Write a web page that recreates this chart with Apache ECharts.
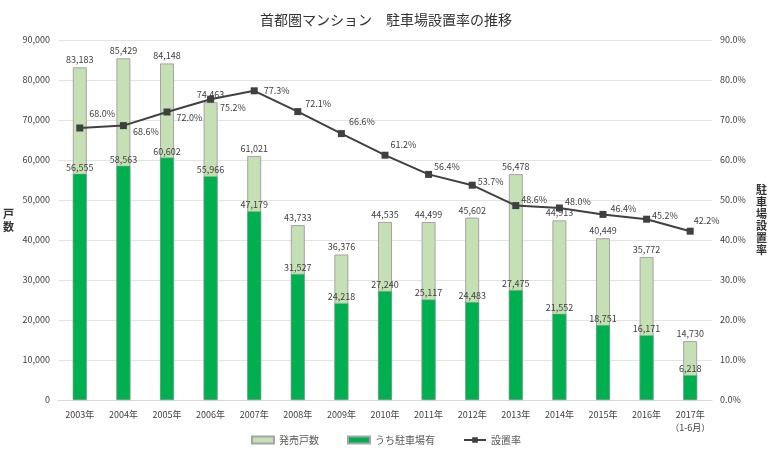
<!DOCTYPE html>
<html><head><meta charset="utf-8">
<script src="https://cdn.jsdelivr.net/npm/echarts@6/dist/echarts.min.js"></script>
<style>html,body{margin:0;padding:0;background:#fff}#c{width:772px;height:460px}</style>
</head><body><div id="c"></div>
<script>
const categories = ['2003年','2004年','2005年','2006年','2007年','2008年','2009年','2010年','2011年','2012年','2013年','2014年','2015年','2016年','2017年\n（1-6月）'];
const totalUnits = [83183,85429,84148,74463,61021,43733,36376,44535,44499,45602,56478,44913,40449,35772,14730];
const parkingUnits = [56555,58563,60602,55966,47179,31527,24218,27240,25117,24483,27475,21552,18751,16171,6218];
const parkingRate = [68.0,68.6,72.0,75.2,77.3,72.1,66.6,61.2,56.4,53.7,48.6,48.0,46.4,45.2,42.2];
const rateLabelOffsets = [[0,-14],[0,6],[0,6],[0,8],[0,0],[-2,-8],[-2,-12],[-4,-11],[-4,-8],[-4,-4],[-4,-6],[-4,-6],[-2,-6],[-4,-4],[-6,-11]];

const font = 'Noto Sans CJK JP';
const chart = echarts.init(document.getElementById('c'));
chart.setOption({
  animation:false,
  textStyle:{fontFamily:font},
  title:{text:'首都圏マンション　駐車場設置率の推移',left:'center',top:8,
    textStyle:{fontSize:14,fontWeight:'normal',color:'#333',fontFamily:font}},
  grid:{left:58,right:60,top:40,bottom:60},
  legend:{bottom:10,left:'center',itemWidth:22,itemHeight:7,itemGap:28,
    textStyle:{fontSize:10,color:'#595959'},
    data:[{name:'発売戸数',icon:'rect'},{name:'うち駐車場有',icon:'rect'},{name:'設置率'}]},
  xAxis:{type:'category',data:categories,
    axisLine:{lineStyle:{color:'#d9d9d9'}},axisTick:{show:false},
    axisLabel:{fontSize:9,color:'#404040',interval:0,lineHeight:13}},
  yAxis:[
    {type:'value',min:0,max:90000,interval:10000,
     name:'戸\n数',nameLocation:'middle',nameGap:44,nameRotate:0,
     nameTextStyle:{fontSize:11,color:'#333',lineHeight:13,fontWeight:'bold'},
     axisLabel:{fontSize:9,color:'#404040',formatter:v=>v.toLocaleString('en-US')},
     splitLine:{lineStyle:{color:'#e3e3e3'}},axisLine:{show:false},axisTick:{show:false}},
    {type:'value',min:0,max:90,interval:10,
     name:'駐\n車\n場\n設\n置\n率',nameLocation:'middle',nameGap:44,nameRotate:0,
     nameTextStyle:{fontSize:11,color:'#333',lineHeight:12,fontWeight:'bold'},
     axisLabel:{fontSize:9,color:'#404040',formatter:v=>v.toFixed(1)+'%'},
     splitLine:{show:false},axisLine:{show:false},axisTick:{show:false}}
  ],
  series:[
    {name:'発売戸数',type:'bar',data:totalUnits,barWidth:14,barGap:'-100%',
     itemStyle:{color:'#c5e0b4',borderColor:'#a5a5a5',borderWidth:1},
     label:{show:true,position:'top',distance:3,fontSize:9,color:'#404040',
       formatter:p=>p.value.toLocaleString('en-US')}},
    {name:'うち駐車場有',type:'bar',data:parkingUnits,barWidth:14,barGap:'-100%',
     itemStyle:{color:'#00b050',borderColor:'#a5a5a5',borderWidth:0.5},
     label:{show:true,position:'top',distance:2,fontSize:9,color:'#404040',
       formatter:p=>p.value.toLocaleString('en-US')}},
    {name:'設置率',type:'line',yAxisIndex:1,
     data:parkingRate.map((v,i)=>({value:v,label:{offset:rateLabelOffsets[i]}})),
     symbol:'rect',symbolSize:7,
     lineStyle:{color:'#404040',width:2},itemStyle:{color:'#404040'},
     label:{show:true,position:'right',distance:6,fontSize:9,color:'#404040',
       formatter:p=>p.value.toFixed(1)+'%'}}
  ]
});
</script></body></html>
